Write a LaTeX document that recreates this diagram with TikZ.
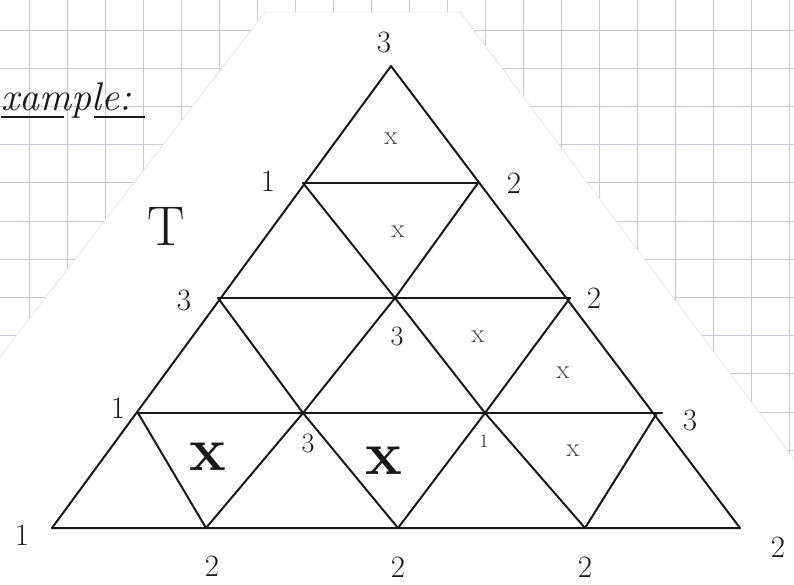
\documentclass[tikz,border=0pt]{standalone}
\usepackage{fontspec}
\setmainfont{Latin Modern Roman}
\definecolor{gridc}{RGB}{200,200,214}
\definecolor{ink}{RGB}{25,25,25}
\begin{document}
\begin{tikzpicture}[x=1pt,y=-1pt,
  edge/.style={draw=ink,line width=2pt,line join=round,line cap=round},
  lab/.style={text=ink,inner sep=0pt,font=\fontsize{31}{31}\selectfont},
  ilab/.style={text=ink,inner sep=0pt,font=\fontsize{28}{28}\selectfont},
  slab/.style={text=ink,inner sep=0pt,font=\fontsize{19}{19}\selectfont},
  xs/.style={text=ink!80,inner sep=0pt,font=\fontsize{27}{27}\selectfont},
  xb/.style={text=ink,inner sep=0pt,font=\fontsize{62}{62}\selectfont\bfseries}]
\useasboundingbox (0,0) rectangle (794,584);
\fill[white] (0,0) rectangle (794,584);
% grid paper
\foreach \i in {0,...,20} \draw[gridc,line width=0.8pt] ({29+38*\i},0) -- ({29+38*\i},584);
\foreach \j in {0,...,14} \draw[gridc,line width=0.8pt] (0,{30+38.2*\j}) -- (794,{30+38.2*\j});
% the white sheet
\fill[white] (265,12) -- (460,12) -- (794,459) -- (794,584) -- (0,584) -- (0,357) -- cycle;
\draw[gridc!60,line width=0.5pt] (0,357) -- (265,12) -- (460,12) -- (794,459);
% heading
\node[text=ink,inner sep=0pt,anchor=base west,font=\fontsize{40}{40}\selectfont\itshape] (head) at (1,110) {xample:};
\draw[ink,line width=1.4pt] (1,117) -- (64,117) (94,117) -- (145,117);
\node[text=ink,inner sep=0pt,font=\fontsize{56}{56}\selectfont] (T) at (166,226) {T};
% vertices
\coordinate (A) at (391,66);
\coordinate (B1) at (303,183); \coordinate (B2) at (478,183);
\coordinate (C1) at (218,298); \coordinate (C2) at (395,298); \coordinate (C3) at (570,298);
\coordinate (D1) at (138,413); \coordinate (D2) at (303,413); \coordinate (D3) at (485,413); \coordinate (D4) at (657,413);
\coordinate (E1) at (52,528); \coordinate (E2) at (206,528); \coordinate (E3) at (398,528); \coordinate (E4) at (585,528); \coordinate (E5) at (740,528);
\coordinate (D4e) at (662,413);
% lines
\draw[edge] (E1) -- (A) -- (E5) -- cycle;
\draw[edge] (B1) -- (B2);
\draw[edge] (C1) -- (C3);
\draw[edge] (D1) -- (D4e);
\draw[edge] (B1) -- (C2) -- (D3) -- (E4);
\draw[edge] (C1) -- (D2) -- (E3);
\draw[edge] (D1) -- (E2);
\draw[edge] (B2) -- (C2) -- (D2) -- (E2);
\draw[edge] (C3) -- (D3) -- (E3);
\draw[edge] (D4) -- (E4);
% vertex labels
\node[lab] (lA) at (384,42) {3};
\node[lab] (lB1) at (268,181) {1};
\node[lab] (lB2) at (514,183) {2};
\node[lab] (lC1) at (184,300) {3};
\node[lab] (lC3) at (594,298) {2};
\node[lab] (lD1) at (118,408) {1};
\node[lab] (lD4) at (690,420) {3};
\node[lab] (lE1) at (22,535) {1};
\node[lab] (lE2) at (212,566) {2};
\node[lab] (lE3) at (398,567) {2};
\node[lab] (lE4) at (585,567) {2};
\node[lab] (lE5) at (778,547) {2};
\node[ilab] (lC2) at (397,336) {3};
\node[ilab] (lD2) at (308,443) {3};
\node[slab] (lD3) at (484,441) {1};
% marks
\node[xs] (x1) at (391,139) {x};
\node[xs] (x2) at (398,232) {x};
\node[xs] (x3) at (478,337) {x};
\node[xs] (x4) at (563,373) {x};
\node[xs] (x5) at (573,451) {x};
\node[xb] (X1) at (208,457) {x};
\node[xb] (X2) at (384,461) {x};
\end{tikzpicture}
\end{document}
